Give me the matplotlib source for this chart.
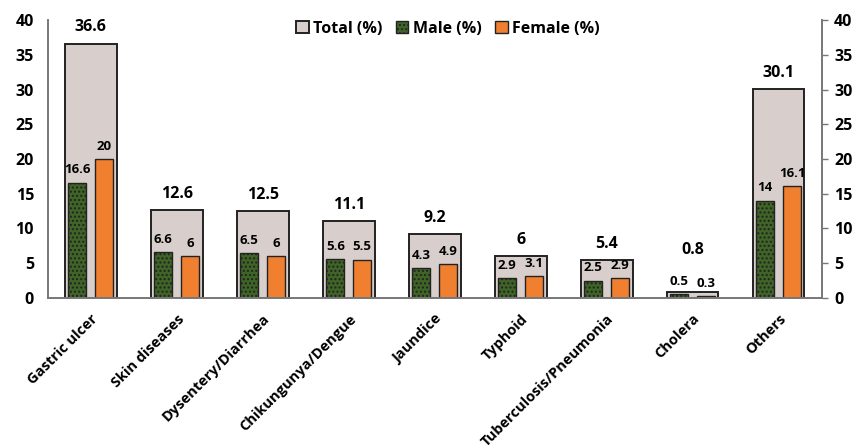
import numpy as np
import matplotlib
matplotlib.use('Agg')
import matplotlib.pyplot as plt

plt.rcParams['font.family'] = ['Open Sans', 'DejaVu Sans']
plt.rcParams['font.weight'] = 'bold'
plt.rcParams['hatch.color'] = '#b9d08f'
plt.rcParams['hatch.linewidth'] = 1.0

categories = ['Gastric ulcer', 'Skin diseases', 'Dysentery/Diarrhea', 'Chikungunya/Dengue',
              'Jaundice', 'Typhoid', 'Tuberculosis/Pneumonia', 'Cholera', 'Others']
total = [36.6, 12.6, 12.5, 11.1, 9.2, 6, 5.4, 0.8, 30.1]
male = [16.6, 6.6, 6.5, 5.6, 4.3, 2.9, 2.5, 0.5, 14]
female = [20, 6, 6, 5.5, 4.9, 3.1, 2.9, 0.3, 16.1]
yticks = [0, 5, 10, 15, 20, 25, 30, 35, 40]

x = np.arange(len(categories))

fig = plt.figure(figsize=(8.55, 4.48), dpi=100)
ax = fig.add_axes([0.056, 0.335, 0.905, 0.62])

ax.bar(x, total, width=0.6, color='#d8cfcc', edgecolor='#222222', lw=1.4, label='Total (%)', zorder=1)
ax.bar(x - 0.157, male, width=0.21, color='#3f6526', edgecolor='#222222', lw=1.0,
       hatch='....', label='Male (%)', zorder=2)
ax.bar(x + 0.157, female, width=0.21, color='#f07f2f', edgecolor='#222222', lw=1.0,
       label='Female (%)', zorder=2)

# value labels (cholera total label sits higher, clear of the small ones)
for i in range(len(x)):
    off = 5.0 if categories[i] == 'Cholera' else 1.2
    ax.text(x[i], total[i] + off, '%g' % total[i], ha='center', va='bottom', fontsize=11.5, fontweight='bold')
    ax.text(x[i] - 0.157, male[i] + 0.9, '%g' % male[i], ha='center', va='bottom', fontsize=9.5, fontweight='bold')
    ax.text(x[i] + 0.157, female[i] + 0.9, '%g' % female[i], ha='center', va='bottom', fontsize=9.5, fontweight='bold')

ax.set_xlim(-0.5, len(x) - 0.5)
ax.set_ylim(0, 40)
ax.set_yticks(yticks)
ax.set_xticks(x)
ax.set_xticklabels(categories, rotation=45, ha='right', rotation_mode='anchor',
                   fontsize=10.5, fontweight='bold')
ax.tick_params(axis='y', length=0, labelsize=11.5, pad=10, labelleft=True, labelright=False)
ax.tick_params(axis='x', length=0, pad=10)
for lab in ax.get_yticklabels():
    lab.set_fontweight('bold')

# right-hand copy of the scale, with small outward ticks
ax2 = ax.twinx()
ax2.set_ylim(0, 40)
ax2.set_yticks(yticks)
ax2.tick_params(axis='y', length=4, width=1.0, color='#777777', labelsize=11.5, pad=5)
for lab in ax2.get_yticklabels():
    lab.set_fontweight('bold')

for a in [ax, ax2]:
    a.spines['top'].set_visible(False)
    for s in ['left', 'right', 'bottom']:
        a.spines[s].set_color('#777777')
        a.spines[s].set_linewidth(1.2)

ax.legend(loc='upper center', bbox_to_anchor=(0.517, 1.05), ncol=3, frameon=False,
          handlelength=0.8, handleheight=0.8, handletextpad=0.3,
          columnspacing=0.8, prop={'weight': 'bold', 'size': 11.5})

fig.savefig('out.png', dpi=100)
